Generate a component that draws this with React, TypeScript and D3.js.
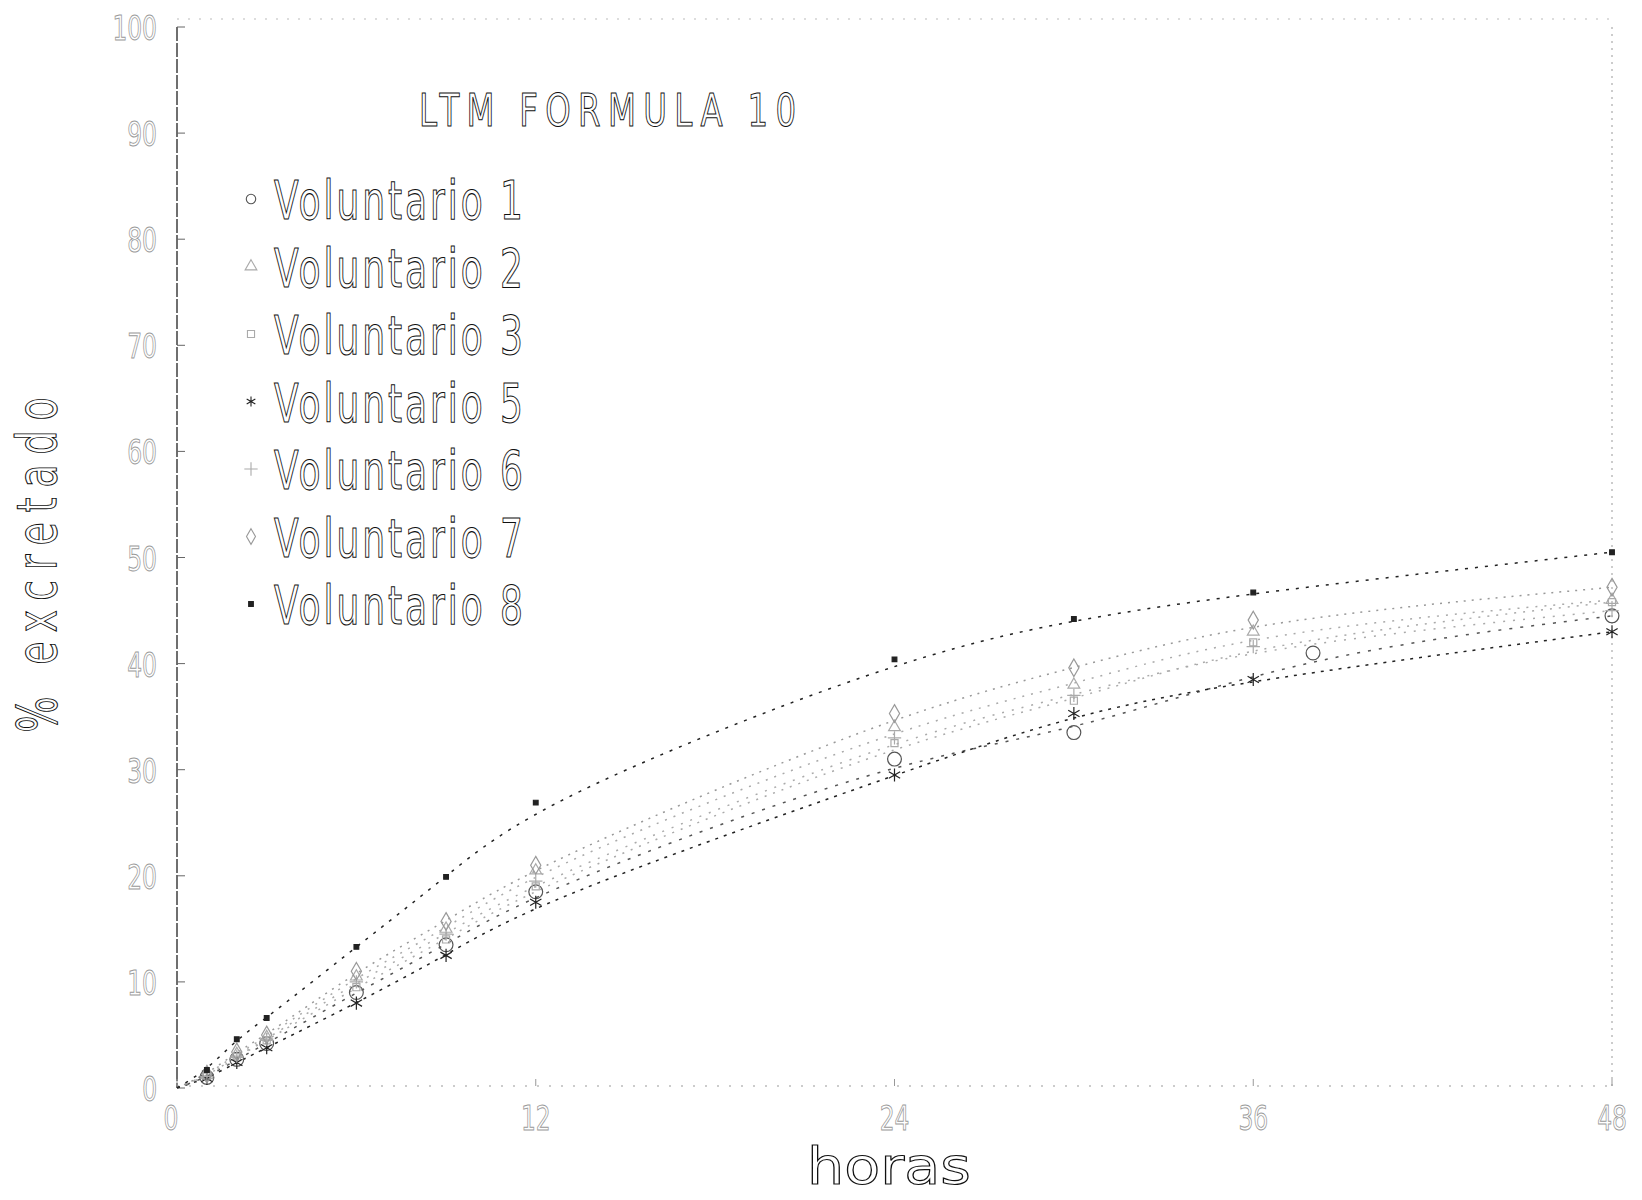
import { useMemo } from "react";
import * as d3 from "d3";

// horas de colecta (acumulado)
const HOURS = [0, 1, 2, 3, 6, 9, 12, 24, 30, 36, 48];
const HOURS_V1 = [0, 1, 2, 3, 6, 9, 12, 24, 30, 38, 48];

const V1 = [0, 1.0, 2.7, 4.2, 9.0, 13.5, 18.5, 31.0, 33.5, 41.0, 44.5];
const V2 = [0, 1.2, 3.2, 4.8, 10.5, 15.0, 20.5, 34.0, 38.0, 43.0, 46.0];
const V3 = [0, 1.1, 2.9, 4.5, 9.5, 14.0, 19.0, 32.5, 36.5, 42.0, 45.8];
const V5 = [0, 0.9, 2.4, 3.8, 8.0, 12.5, 17.5, 29.5, 35.3, 38.5, 43.0];
const V6 = [0, 1.1, 3.0, 4.6, 10.0, 14.5, 19.5, 33.0, 37.0, 41.6, 45.0];
const V7 = [0, 1.3, 3.4, 5.0, 11.0, 15.7, 21.0, 35.3, 39.6, 44.1, 47.2];
const V8 = [0, 1.7, 4.6, 6.6, 13.3, 19.9, 26.9, 40.4, 44.2, 46.7, 50.5];

const LEGEND = [
  "Voluntario 1",
  "Voluntario 2",
  "Voluntario 3",
  "Voluntario 5",
  "Voluntario 6",
  "Voluntario 7",
  "Voluntario 8",
];

const Y_TICKS = [0, 10, 20, 30, 40, 50, 60, 70, 80, 90, 100];
const X_TICKS = [0, 12, 24, 36, 48];

const W = 1642;
const H = 1200;
const FONT = "'Liberation Sans Narrow', 'DejaVu Sans Condensed', 'Roboto Condensed', sans-serif";

type Serie = {
  name: string;
  hours: number[];
  values: number[];
  symbol: d3.SymbolType;
  size: number;
  filled: boolean;
  stroke: string;
  dash: string;
};

export default function App() {
  const x = d3.scaleLinear().domain([0, 48]).range([177, 1612]);
  const y = d3.scaleLinear().domain([0, 100]).range([1088, 27]);

  const series: Serie[] = useMemo(
    () => [
      { name: LEGEND[0], hours: HOURS_V1, values: V1, symbol: d3.symbolCircle, size: 150, filled: false, stroke: "#555", dash: "3 8" },
      { name: LEGEND[1], hours: HOURS, values: V2, symbol: d3.symbolTriangle, size: 60, filled: false, stroke: "#aaa", dash: "2 7" },
      { name: LEGEND[2], hours: HOURS, values: V3, symbol: d3.symbolSquare, size: 50, filled: false, stroke: "#aaa", dash: "2 7" },
      { name: LEGEND[3], hours: HOURS, values: V5, symbol: d3.symbolAsterisk, size: 120, filled: false, stroke: "#222", dash: "3 6" },
      { name: LEGEND[4], hours: HOURS, values: V6, symbol: d3.symbolPlus, size: 60, filled: false, stroke: "#aaa", dash: "2 8" },
      { name: LEGEND[5], hours: HOURS, values: V7, symbol: d3.symbolDiamond, size: 90, filled: false, stroke: "#999", dash: "2 6" },
      { name: LEGEND[6], hours: HOURS, values: V8, symbol: d3.symbolSquare, size: 22, filled: true, stroke: "#222", dash: "3 7" },
    ],
    []
  );

  const line = (s: Serie) =>
    d3
      .line<number>()
      .x((_d, i) => x(s.hours[i]))
      .y((d) => y(d))
      .curve(d3.curveBasis)(s.values) || "";

  const legendY = (i: number) => 199 + i * 67.5;

  return (
    <svg
      width={W}
      height={H}
      viewBox={`0 0 ${W} ${H}`}
      style={{ position: "absolute", left: 0, top: 0, background: "#fff" }}
    >
      <rect width={W} height={H} fill="#fff" />

      {/* marco: izquierda sólida, resto punteado */}
      <line x1={x(0)} x2={x(0)} y1={y(100)} y2={y(0)} stroke="#333" strokeWidth={1.4} strokeDasharray="14 2" />
      <line x1={x(0)} x2={x(48)} y1={y(100) - 8} y2={y(100) - 8} stroke="#bbb" strokeWidth={1} strokeDasharray="2 9" />
      <line x1={x(0)} x2={x(48)} y1={y(0) - 2} y2={y(0) - 2} stroke="#999" strokeWidth={1} strokeDasharray="2 10" />
      <line x1={x(48)} x2={x(48)} y1={y(100)} y2={y(0)} stroke="#999" strokeWidth={1} strokeDasharray="2 5" />

      {/* ticks eje Y */}
      {Y_TICKS.map((t) => (
        <g key={`yt${t}`}>
          <line x1={x(0)} x2={x(0) + 8} y1={y(t)} y2={y(t)} stroke="#666" strokeWidth={1} />
          <text
            transform={`translate(157,${y(t) + 13}) scale(1,1.3)`}
            textAnchor="end"
            fontFamily={FONT}
            fontSize={26}
            fill="none"
            stroke="#999"
            strokeWidth={0.7}
          >
            {t}
          </text>
        </g>
      ))}

      {/* ticks eje X */}
      {X_TICKS.map((t) => (
        <g key={`xt${t}`}>
          <line x1={x(t)} x2={x(t)} y1={y(0) - 2} y2={y(0) - 9} stroke="#999" strokeWidth={1} />
          <text
            transform={`translate(${x(t) - (t === 0 ? 6 : 0)},1130) scale(1,1.3)`}
            textAnchor="middle"
            fontFamily={FONT}
            fontSize={26}
            fill="none"
            stroke="#999"
            strokeWidth={0.7}
          >
            {t}
          </text>
        </g>
      ))}

      {/* curvas */}
      {series.map((s) => (
        <path
          key={`l${s.name}`}
          d={line(s)}
          fill="none"
          stroke={s.stroke}
          strokeWidth={1.5}
          strokeDasharray={s.dash}
        />
      ))}

      {/* marcadores */}
      {series.map((s) =>
        s.values.map((v, i) =>
          s.hours[i] === 0 ? null : (
            <path
              key={`m${s.name}${i}`}
              d={d3.symbol().type(s.symbol).size(s.size)() || ""}
              transform={`translate(${x(s.hours[i])},${y(v)})`}
              fill={s.filled ? "#222" : "none"}
              stroke={s.stroke}
              strokeWidth={1.2}
            />
          )
        )
      )}

      {/* título */}
      <text
        transform="translate(419,126) scale(1,1.25)"
        fontFamily={FONT}
        fontSize={36}
        textLength={377}
        lengthAdjust="spacing"
        fill="none"
        stroke="#111"
        strokeWidth={0.8}
      >
        LTM FORMULA 10
      </text>

      {/* leyenda */}
      {series.map((s, i) => (
        <g key={`lg${s.name}`}>
          <path
            d={d3.symbol().type(s.symbol).size(Math.min(s.size, 70))() || ""}
            transform={`translate(251,${legendY(i)})`}
            fill={s.filled ? "#222" : "none"}
            stroke={s.stroke}
            strokeWidth={1.1}
          />
          <text
            transform={`translate(274,${legendY(i) + 20}) scale(1,1.35)`}
            fontFamily={FONT}
            fontSize={40}
            textLength={249}
            lengthAdjust="spacing"
            fill="none"
            stroke="#111"
            strokeWidth={0.8}
          >
            {s.name}
          </text>
        </g>
      ))}

      {/* títulos de ejes */}
      <text
        transform="translate(889,1184) scale(1,1.3)"
        textAnchor="middle"
        fontFamily={FONT}
        fontSize={40}
        textLength={164}
        lengthAdjust="spacingAndGlyphs"
        fill="none"
        stroke="#111"
        strokeWidth={0.8}
      >
        horas
      </text>
      <text
        transform="translate(56,565) rotate(-90) scale(1,1.3)"
        textAnchor="middle"
        fontFamily={FONT}
        fontSize={42}
        textLength={335}
        lengthAdjust="spacing"
        fill="none"
        stroke="#111"
        strokeWidth={0.8}
      >
        % excretado
      </text>
    </svg>
  );
}
